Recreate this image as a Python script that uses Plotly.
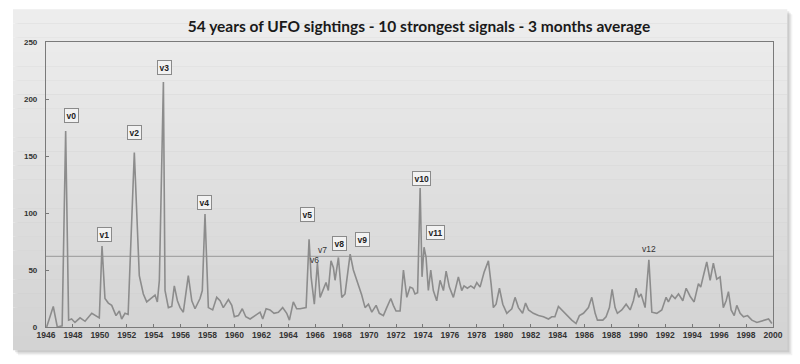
import plotly.graph_objects as go

# ---- data (3-month average of UFO sightings) ----
years = [
    1946.05, 1946.54, 1946.84, 1947.20, 1947.46, 1947.68, 1947.90, 1948.15, 1948.53, 1948.90,
    1949.40, 1949.64, 1949.96, 1950.16, 1950.38, 1950.63, 1950.88, 1951.20, 1951.45, 1951.62,
    1951.87, 1952.10, 1952.56, 1952.93, 1953.23, 1953.48, 1953.85, 1954.10, 1954.27, 1954.42,
    1954.72, 1954.84, 1955.09, 1955.34, 1955.53, 1955.76, 1955.96, 1956.20, 1956.57, 1956.83,
    1957.07, 1957.44, 1957.61, 1957.81, 1958.06, 1958.38, 1958.68, 1958.93, 1959.17, 1959.55,
    1959.80, 1959.99, 1960.29, 1960.58, 1960.84, 1961.16, 1961.53, 1961.90, 1962.10, 1962.35,
    1962.64, 1962.94, 1963.26, 1963.58, 1963.88, 1964.08, 1964.37, 1964.62, 1964.87, 1965.32,
    1965.54, 1965.69, 1965.93, 1966.16, 1966.36, 1966.56, 1966.80, 1966.97, 1967.17, 1967.35,
    1967.47, 1967.72, 1967.97, 1968.21, 1968.39, 1968.59, 1968.83, 1969.20, 1969.45, 1969.70,
    1969.95, 1970.20, 1970.52, 1970.76, 1971.06, 1971.31, 1971.61, 1971.80, 1972.00, 1972.30,
    1972.55, 1972.80, 1973.04, 1973.24, 1973.41, 1973.60, 1973.79, 1973.93, 1974.08, 1974.23,
    1974.40, 1974.58, 1974.77, 1975.02, 1975.27, 1975.52, 1975.72, 1975.96, 1976.26, 1976.63,
    1976.88, 1977.05, 1977.30, 1977.55, 1977.80, 1978.00, 1978.24, 1978.54, 1978.86, 1979.06,
    1979.23, 1979.43, 1979.68, 1979.93, 1980.23, 1980.60, 1980.84, 1981.09, 1981.40, 1981.62,
    1981.84, 1982.20, 1982.58, 1982.95, 1983.32, 1983.57, 1983.80, 1984.06, 1984.30, 1984.68,
    1985.05, 1985.37, 1985.62, 1985.92, 1986.29, 1986.54, 1986.79, 1986.96, 1987.36, 1987.60,
    1987.85, 1988.05, 1988.27, 1988.44, 1988.77, 1989.09, 1989.39, 1989.63, 1989.83, 1990.03,
    1990.20, 1990.50, 1990.78, 1991.00, 1991.37, 1991.74, 1992.06, 1992.23, 1992.48, 1992.73,
    1992.98, 1993.30, 1993.55, 1993.84, 1994.14, 1994.46, 1994.63, 1994.83, 1995.08, 1995.33,
    1995.57, 1995.82, 1996.07, 1996.31, 1996.52, 1996.69, 1996.89, 1997.12, 1997.31, 1997.56,
    1997.81, 1998.11, 1998.43, 1998.80, 1999.17, 1999.50, 1999.67, 1999.92,
]
sightings = [
    0, 18, 0, 1, 172, 6, 7, 4, 8, 5,
    12, 10, 8, 71, 25, 21, 19, 10, 14, 7,
    12, 11, 153, 45, 29, 22, 26, 28, 22, 41,
    215, 32, 17, 18, 36, 23, 17, 13, 45, 23,
    16, 25, 32, 99, 17, 15, 26, 23, 17, 24,
    19, 9, 10, 16, 9, 7, 10, 13, 7, 16,
    15, 12, 13, 17, 12, 6, 22, 16, 16, 17,
    77, 44, 20, 56, 26, 32, 39, 32, 58, 52,
    41, 61, 26, 29, 45, 64, 50, 38, 28, 17,
    20, 13, 19, 12, 10, 17, 25, 19, 14, 14,
    50, 26, 35, 34, 29, 30, 122, 44, 70, 61,
    32, 50, 32, 23, 41, 32, 49, 35, 26, 44,
    32, 36, 34, 36, 34, 39, 35, 48, 58, 38,
    17, 20, 34, 20, 12, 16, 26, 17, 12, 21,
    15, 12, 10, 9, 7, 9, 9, 18, 15, 10,
    6, 3, 10, 12, 17, 26, 12, 6, 6, 9,
    17, 33, 17, 12, 15, 20, 15, 23, 34, 26,
    29, 17, 59, 13, 12, 15, 26, 22, 28, 25,
    29, 23, 34, 27, 22, 38, 35, 45, 57, 41,
    56, 42, 44, 17, 23, 31, 15, 10, 19, 12,
    9, 10, 6, 4, 5, 6, 7, 3,
]
threshold = 62

signal_labels = ["v0", "v1", "v2", "v3", "v4", "v5", "v6", "v7", "v8", "v9", "v10", "v11", "v12"]
signal_years = [1947.86, 1950.31, 1952.54, 1954.77, 1957.79, 1965.44, 1965.93, 1966.53, 1967.79, 1969.53, 1973.86, 1974.95, 1990.82]
signal_levels = [185.7, 81.3, 170.8, 227.2, 109.6, 98.6, 59.1, 67.3, 73.2, 76.9, 130.2, 83.3, 68.2]
signal_boxed = [True, True, True, True, True, True, False, False, True, True, True, True, False]

x_ticks = list(range(1946, 2001, 2))
y_ticks = [0, 50, 100, 150, 200, 250]
title_text = "54 years of UFO sightings - 10 strongest signals - 3 months average"

# ---- geometry ----
W, H = 800, 364
L, R, T, B = 46, 772.7, 41.7, 326.7
pw, ph = R - L, B - T


def px_x(px):
    return (px - L) / pw


def px_y(py):
    return (B - py) / ph


fig = go.Figure()
fig.add_trace(go.Scatter(
    x=years, y=sightings, mode="lines",
    line=dict(color="#8c8c8c", width=1.6),
    hoverinfo="skip", showlegend=False,
))

shapes = []
# shadow of the panel
for off, col in [(5, "rgba(0,0,0,0.05)"), (3.5, "rgba(0,0,0,0.07)"), (2, "rgba(0,0,0,0.09)")]:
    shapes.append(dict(type="rect", xref="paper", yref="paper", layer="below",
                       x0=px_x(13 + off), x1=px_x(787 + off), y0=px_y(350 + off), y1=px_y(9 + off),
                       fillcolor=col, line=dict(width=0)))
# panel gradient
n = 24
top, bot = 9.0, 350.0
c_top, c_bot = 238, 210
for i in range(n):
    y0 = top + (bot - top) * i / n
    y1 = top + (bot - top) * (i + 1) / n
    c = round(c_top + (c_bot - c_top) * (i + 0.5) / n)
    shapes.append(dict(type="rect", xref="paper", yref="paper", layer="below",
                       x0=px_x(13), x1=px_x(787), y0=px_y(y1), y1=px_y(y0),
                       fillcolor=f"rgb({c},{c},{c})", line=dict(width=0)))
# threshold line
shapes.append(dict(type="line", xref="paper", yref="y", x0=0, x1=1, y0=threshold, y1=threshold,
                   line=dict(color="#9a9a9a", width=1), layer="below"))

annotations = []
for lab, yx, yv, boxed in zip(signal_labels, signal_years, signal_levels, signal_boxed):
    if boxed:
        annotations.append(dict(x=yx, y=yv, xref="x", yref="y", text=lab, showarrow=False,
                                font=dict(family="Liberation Sans", size=8.5, color="#222", weight="bold"),
                                bgcolor="#f2f2f2", bordercolor="#8a8a8a", borderwidth=1, borderpad=1.5))
    else:
        annotations.append(dict(x=yx, y=yv, xref="x", yref="y", text=lab, showarrow=False,
                                font=dict(family="Liberation Sans", size=8.5, color="#333")))

fig.update_layout(
    width=W, height=H,
    margin=dict(l=L, r=W - R, t=T, b=H - B, pad=0),
    paper_bgcolor="white", plot_bgcolor="rgba(0,0,0,0)",
    title=dict(text=title_text, x=419 / W, xanchor="center", y=1 - 27 / H, yanchor="middle",
               xref="paper" if False else "container", yref="container",
               font=dict(family="Lato", size=15.5, color="#1a1a1a", weight="bold")),
    shapes=shapes, annotations=annotations,
    xaxis=dict(range=[1946, 2000], tickvals=x_ticks, ticktext=[str(v) for v in x_ticks],
               showgrid=False, zeroline=False, showline=True, linecolor="#7a7a7a", linewidth=1.2,
               mirror=True, ticks="inside", ticklen=3, tickcolor="#777",
               tickfont=dict(family="Liberation Sans", size=8.5, color="#333", weight="bold")),
    yaxis=dict(range=[0, 250], tickvals=y_ticks, showgrid=False, zeroline=False,
               showline=True, linecolor="#7a7a7a", linewidth=1.2, mirror=True,
               ticks="inside", ticklen=3, tickcolor="#777", ticklabelstandoff=6,
               tickfont=dict(family="Liberation Sans", size=8, color="#333", weight="bold")),
)

fig.write_html("out.html")
